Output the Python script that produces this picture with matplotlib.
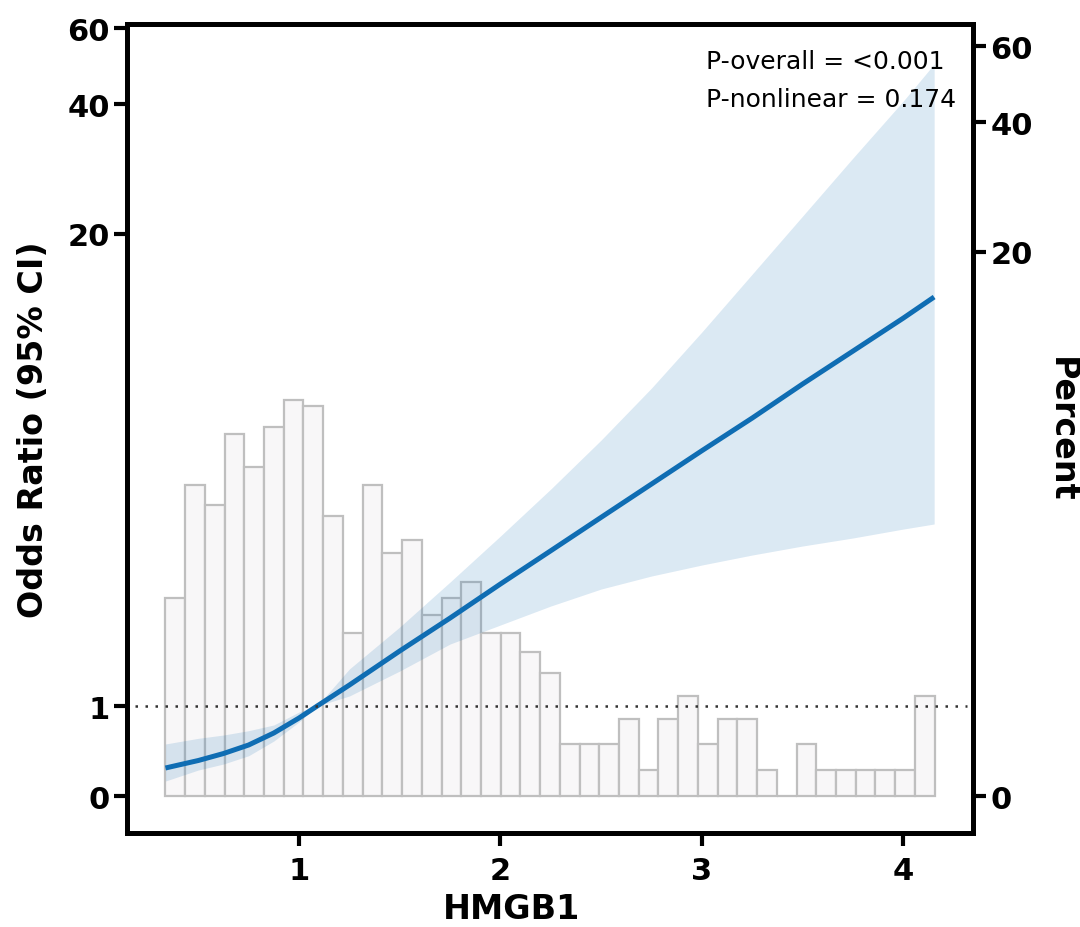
import numpy as np
import matplotlib
matplotlib.use("Agg")
import matplotlib.pyplot as plt
from matplotlib.ticker import NullLocator

# histogram of HMGB1 (counts per bin, 39 bins)
hist_lo, hist_hi = 0.337, 4.155
counts = [9, 18, 16, 24, 20, 25, 29, 28, 15, 7, 18, 12, 13, 8, 9, 10, 7, 7, 6, 5,
          2, 2, 2, 3, 1, 3, 4, 2, 3, 3, 1, 0, 2, 1, 1, 1, 1, 1, 4]

# spline estimate of odds ratio with 95% CI
x_curve = [0.337, 0.5, 0.625, 0.75, 0.875, 1.0, 1.09, 1.25, 1.5, 1.75, 2.0, 2.25,
           2.5, 2.75, 3.0, 3.25, 3.5, 3.75, 4.0, 4.153]
or_est = [0.303, 0.384, 0.460, 0.554, 0.688, 0.859, 1.0, 1.257, 1.709, 2.200,
          2.779, 3.433, 4.199, 5.095, 6.153, 7.379, 8.895, 10.64, 12.72, 14.25]
or_hi = [0.565, 0.628, 0.665, 0.714, 0.779, 0.929, 1.0, 1.464, 2.060, 2.815,
         3.755, 4.951, 6.532, 8.702, 11.80, 16.12, 22.0, 30.01, 40.69, 49.56]
or_lo = [0.163, 0.281, 0.346, 0.436, 0.598, 0.813, 1.0, 1.121, 1.437, 1.808,
         2.091, 2.395, 2.688, 2.927, 3.140, 3.343, 3.534, 3.711, 3.916, 4.036]

left_ticks = [0, 1, 20, 40, 60]
right_ticks = [0, 20, 40, 60]
x_ticks = [1, 2, 3, 4]

line_color = "#0f6db3"

fig = plt.figure(figsize=(10.8, 9.28), dpi=100)
ax = fig.add_axes([127 / 1080, 94 / 928, 846 / 1080, 809 / 928])
ax2 = ax.twinx()
ax.set_zorder(ax2.get_zorder() + 1)
ax.patch.set_visible(False)

# histogram in percent on the right axis
pct = np.array(counts) / sum(counts) * 100
edges = np.linspace(hist_lo, hist_hi, len(counts) + 1)
ax2.bar(edges[:-1], pct, width=np.diff(edges), align="edge",
        color="#f8f7f8", edgecolor="#bfbfbf", linewidth=1.6)

# curve + CI
ax.fill_between(x_curve, or_lo, or_hi, color=line_color, alpha=0.15, linewidth=0)
ax.plot(x_curve, or_est, color=line_color, linewidth=3.6, solid_capstyle="butt",
        solid_joinstyle="round")
ax.axhline(1, xmin=0.01, xmax=0.993, color="#333333", linewidth=1.8,
           linestyle=(0, (1, 3.0)))

# scales
ax.set_yscale("asinh", linear_width=2)
ax.set_ylim(-0.3937, 61.36)
ax2.set_yscale("asinh", linear_width=2.2)
ax2.set_ylim(-0.433, 67.5)
span = hist_hi - hist_lo
ax.set_xlim(hist_lo - 0.05 * span, hist_hi + 0.05 * span)

ax.set_yticks(left_ticks)
ax.set_yticklabels([str(t) for t in left_ticks])
ax2.set_yticks(right_ticks)
ax2.set_yticklabels([str(t) for t in right_ticks])
ax.set_xticks(x_ticks)
ax.set_xticklabels([str(t) for t in x_ticks])
for a in (ax, ax2):
    a.yaxis.set_minor_locator(NullLocator())
    a.xaxis.set_minor_locator(NullLocator())
    for sp in a.spines.values():
        sp.set_linewidth(3.5)

ax.tick_params(axis="y", width=3, length=9.5, labelsize=22, pad=3)
ax.tick_params(axis="x", width=3, length=9.5, labelsize=22, pad=7)
ax2.tick_params(axis="y", width=3, length=9.5, labelsize=22, pad=3)
for lbl in ax.get_xticklabels() + ax.get_yticklabels() + ax2.get_yticklabels():
    lbl.set_fontweight("bold")

ax.set_xlabel("HMGB1", fontsize=24, fontweight="bold")
ax.xaxis.set_label_coords(0.455, -0.073)
ax.set_ylabel("Odds Ratio (95% CI)", fontsize=24, fontweight="bold", va="center")
ax.yaxis.set_label_coords(-0.111, 0.5)
ax2.set_ylabel("Percent", fontsize=24, fontweight="bold", rotation=270, va="center")
ax2.yaxis.set_label_coords(1.104, 0.5)

ax.text(0.684, 0.954, "P-overall = <0.001", transform=ax.transAxes,
        fontsize=18, va="center", ha="left")
ax.text(0.684, 0.907, "P-nonlinear = 0.174", transform=ax.transAxes,
        fontsize=18, va="center", ha="left")

fig.savefig("out.png", dpi=100)
